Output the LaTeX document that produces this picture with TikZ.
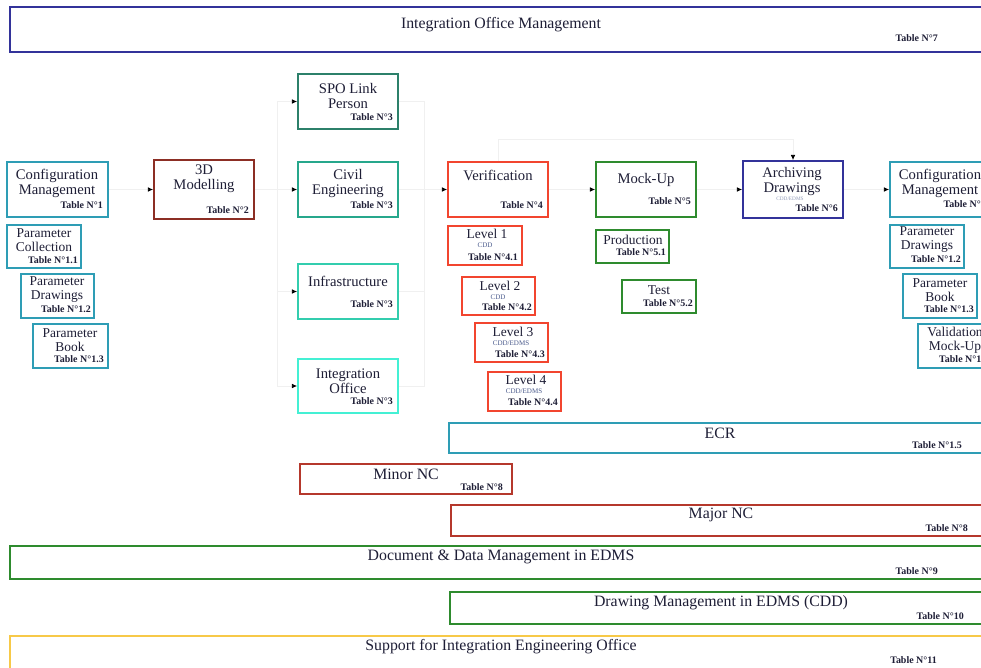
\documentclass[tikz,border=0pt]{standalone}
\usepackage{fontspec}
\setmainfont{Liberation Serif}
\usetikzlibrary{arrows.meta,fit}
\definecolor{ioink}{HTML}{1E1E36}
\definecolor{iosub}{HTML}{4A5A8C}
\definecolor{iowire}{HTML}{F0F0F0}
\definecolor{ionavy}{HTML}{33339A}
\definecolor{ioteal}{HTML}{2E9DB5}
\definecolor{iobrick}{HTML}{8C2E24}
\definecolor{iospo}{HTML}{2C806A}
\definecolor{iocivil}{HTML}{26A78C}
\definecolor{ioinfra}{HTML}{33CDAE}
\definecolor{iooffice}{HTML}{44F0D4}
\definecolor{iored}{HTML}{F2452F}
\definecolor{iogreen}{HTML}{2E8B2E}
\definecolor{ionc}{HTML}{B5382C}
\definecolor{iogold}{HTML}{F7C948}
\tikzset{
  io box/.style={draw=#1, line width=1.5pt, fill=white, inner sep=0pt},
  io title/.style={font=\fontsize{12.5}{12.8}\selectfont, text=ioink, align=center, inner sep=0pt},
  io small/.style={font=\fontsize{11.5}{12}\selectfont, text=ioink, align=center, inner sep=0pt},
  io strip/.style={font=\fontsize{13.5}{15}\selectfont, text=ioink, inner sep=0pt},
  io table/.style={font=\bfseries\fontsize{8.5}{9}\selectfont, text=ioink, inner sep=0pt, anchor=east},
  io sub/.style={font=\fontsize{6}{6}\selectfont, text=iosub, inner sep=0pt},
  io wire/.style={draw=iowire, line width=0.7pt},
  io link/.style={io wire, -{Latex[length=4.5pt,width=4pt,color=black]}}
}

\begin{document}
\begin{tikzpicture}[x=0.03cm, y=-0.03cm]
  \clip (0,0) rectangle (981,667);

  % top strip
  \node[io box=ionavy, fit={(10,7) (1010,52)}] (iom) {};
  \node[io strip] (iomt) at (501,25) {Integration Office Management};
  \node[io table] (iomn) at (938,38) {Table N°7};

  % configuration management, left column
  \node[io box=ioteal, fit={(7,162) (108,217)}] (cml) {};
  \node[io title] (cmlt) at (57,183) {Configuration\\Management};
  \node[io table] (cmln) at (103,205) {Table N°1};
  \node[io box=ioteal, fit={(7,225) (81,268)}] (pcl) {};
  \node[io small] (pclt) at (44,240) {Parameter\\Collection};
  \node[io table] (pcln) at (78,260) {Table N°1.1};
  \node[io box=ioteal, fit={(21,274) (94,318)}] (pdl) {};
  \node[io small] (pdlt) at (57,290) {Parameter\\Drawings};
  \node[io table] (pdln) at (91,309) {Table N°1.2};
  \node[io box=ioteal, fit={(33,324) (108,368)}] (pbl) {};
  \node[io small] (pblt) at (70,340) {Parameter\\Book};
  \node[io table] (pbln) at (104,359) {Table N°1.3};

  % 3D modelling
  \node[io box=iobrick, fit={(154,160) (254,219)}] (mod) {};
  \node[io title] (modt) at (204,179) {3D\\Modelling};
  \node[io table] (modn) at (249,210) {Table N°2};

  % design groups
  \node[io box=iospo, fit={(298,74) (398,129)}] (spo) {};
  \node[io title] (spot) at (348,96) {SPO Link\\Person};
  \node[io table] (spon) at (393,117) {Table N°3};
  \node[io box=iocivil, fit={(298,162) (398,217)}] (civ) {};
  \node[io title] (civt) at (348,183) {Civil\\Engineering};
  \node[io table] (civn) at (393,205) {Table N°3};
  \node[io box=ioinfra, fit={(298,264) (398,319)}] (inf) {};
  \node[io title] (inft) at (348,281) {Infrastructure};
  \node[io table] (infn) at (393,304) {Table N°3};
  \node[io box=iooffice, fit={(298,359) (398,413)}] (ofc) {};
  \node[io title] (ofct) at (348,381) {Integration\\Office};
  \node[io table] (ofcn) at (393,401) {Table N°3};

  % verification and its levels
  \node[io box=iored, fit={(448,162) (548,217)}] (ver) {};
  \node[io title] (vert) at (498,175) {Verification};
  \node[io table] (vern) at (543,205) {Table N°4};
  \node[io box=iored, fit={(448,226) (522,265)}] (lv1) {};
  \node[io small] (lv1t) at (487,234) {Level 1};
  \node[io sub] (lv1s) at (485,245) {CDD};
  \node[io table] (lv1n) at (518,257) {Table N°4.1};
  \node[io box=iored, fit={(462,277) (535,315)}] (lv2) {};
  \node[io small] (lv2t) at (500,286) {Level 2};
  \node[io sub] (lv2s) at (498,297) {CDD};
  \node[io table] (lv2n) at (532,307) {Table N°4.2};
  \node[io box=iored, fit={(475,323) (548,362)}] (lv3) {};
  \node[io small] (lv3t) at (513,332) {Level 3};
  \node[io sub] (lv3s) at (511,343) {CDD/EDMS};
  \node[io table] (lv3n) at (545,354) {Table N°4.3};
  \node[io box=iored, fit={(488,372) (561,411)}] (lv4) {};
  \node[io small] (lv4t) at (526,380) {Level 4};
  \node[io sub] (lv4s) at (524,391) {CDD/EDMS};
  \node[io table] (lv4n) at (558,402) {Table N°4.4};

  % mock-up
  \node[io box=iogreen, fit={(596,162) (696,217)}] (mku) {};
  \node[io title] (mkut) at (646,180) {Mock-Up};
  \node[io table] (mkun) at (691,201) {Table N°5};
  \node[io box=iogreen, fit={(596,230) (669,263)}] (prd) {};
  \node[io small] (prdt) at (633,240) {Production};
  \node[io table] (prdn) at (666,252) {Table N°5.1};
  \node[io box=iogreen, fit={(622,280) (696,313)}] (tst) {};
  \node[io small] (tstt) at (659,290) {Test};
  \node[io table] (tstn) at (693,303) {Table N°5.2};

  % archiving
  \node[io box=ionavy, fit={(743,161) (843,218)}] (arc) {};
  \node[io title] (arct) at (792,181) {Archiving\\Drawings};
  \node[io sub, text=iosub!60, font=\fontsize{4.5}{5}\selectfont] (arcs) at (790,199) {CDD/EDMS};
  \node[io table] (arcn) at (838,208) {Table N°6};

  % configuration management, right column
  \node[io box=ioteal, fit={(890,162) (991,217)}] (cmr) {};
  \node[io title] (cmrt) at (940,183) {Configuration\\Management};
  \node[io table] (cmrn) at (986,204) {Table N°1};
  \node[io box=ioteal, fit={(890,225) (964,268)}] (pdr) {};
  \node[io small] (pdrt) at (927,240) {Parameter\\Drawings};
  \node[io table] (pdrn) at (961,259) {Table N°1.2};
  \node[io box=ioteal, fit={(903,274) (977,318)}] (pbr) {};
  \node[io small] (pbrt) at (940,290) {Parameter\\Book};
  \node[io table] (pbrn) at (974,309) {Table N°1.3};
  \node[io box=ioteal, fit={(918,324) (992,368)}] (vmu) {};
  \node[io small] (vmut) at (955,340) {Validation\\Mock-Up};
  \node[io table] (vmun) at (989,359) {Table N°1.4};

  % strips
  \node[io box=ioteal, fit={(449,423) (1010,453)}] (ecr) {};
  \node[io strip] (ecrt) at (720,433) {ECR};
  \node[io table] (ecrn) at (962,445) {Table N°1.5};
  \node[io box=ionc, fit={(300,464) (512,494)}] (mnc) {};
  \node[io strip] (mnct) at (406,474) {Minor NC};
  \node[io table] (mncn) at (503,487) {Table N°8};
  \node[io box=ionc, fit={(451,505) (1010,536)}] (jnc) {};
  \node[io strip] (jnct) at (721,515) {Major NC};
  \node[io table] (jncn) at (968,528) {Table N°8};
  \node[io box=iogreen, fit={(10,546) (1010,579)}] (ddm) {};
  \node[io strip] (ddmt) at (501,557) {Document \& Data Management in EDMS};
  \node[io table] (ddmn) at (938,571) {Table N°9};
  \node[io box=iogreen, fit={(450,592) (1010,624)}] (dwm) {};
  \node[io strip] (dwmt) at (721,603) {Drawing Management in EDMS (CDD)};
  \node[io table] (dwmn) at (964,616) {Table N°10};
  \node[io box=iogold, fit={(10,636) (1010,690)}] (sup) {};
  \node[io strip] (supt) at (501,647) {Support for Integration Engineering Office};
  \node[io table] (supn) at (937,660) {Table N°11};

  % connectors
  \coordinate (lbus) at (277,189.5);
  \coordinate (rbus) at (424,189.5);
  \draw[io link] (cml) -- (mod);
  \draw[io link] (mod) -- (civ);
  \draw[io link] (lbus) |- (spo.west);
  \draw[io link] (lbus) |- (inf.west);
  \draw[io link] (lbus) |- (ofc.west);
  \draw[io wire] (spo.east) -| (rbus);
  \draw[io wire] (ofc.east) -| (rbus);
  \draw[io wire] (inf.east) -- (inf.east -| rbus);
  \draw[io link] (civ) -- (ver);
  \draw[io link] (ver) -- (mku);
  \draw[io link] (mku) -- (arc);
  \draw[io link] (arc) -- (cmr);
  \draw[io link] (ver.north) -- ++(0,-22) -| (arc.north);
\end{tikzpicture}
\end{document}
